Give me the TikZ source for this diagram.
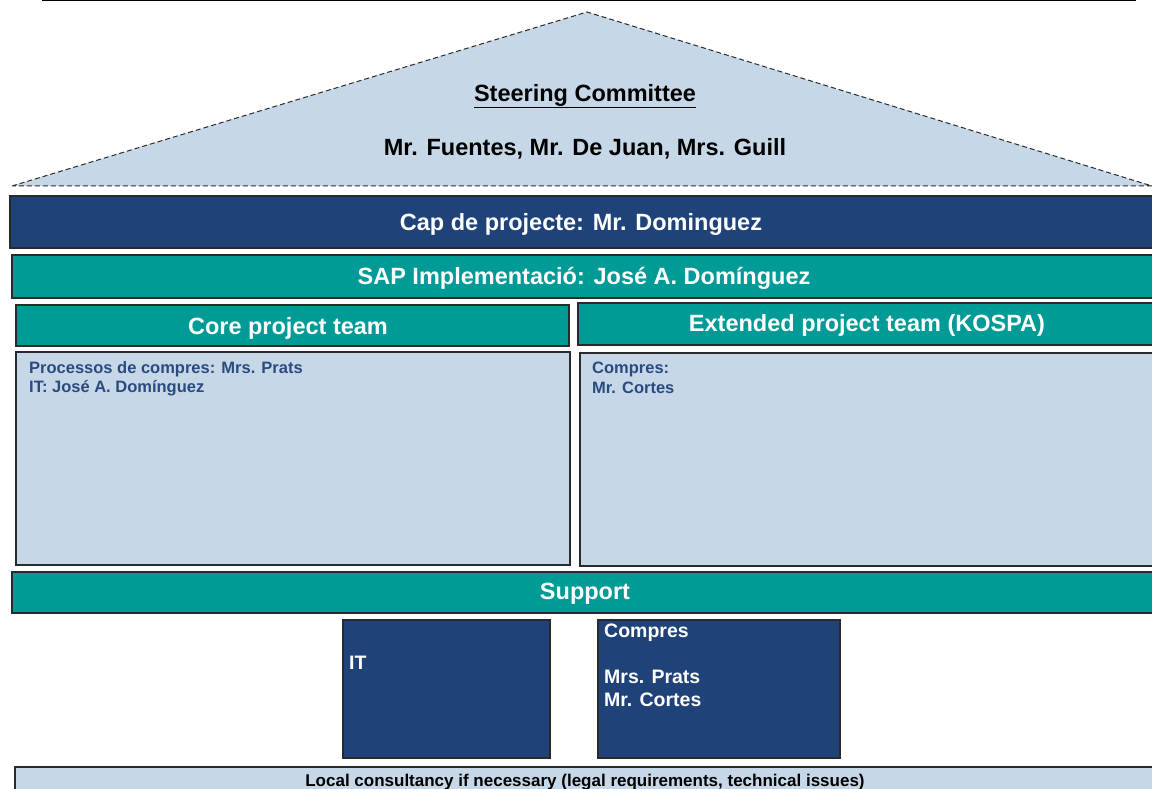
\documentclass[tikz,border=0pt]{standalone}
\usepackage{fontspec}
\setmainfont{Liberation Sans}
\definecolor{lblue}{HTML}{C6D8E7}
\definecolor{dblue}{HTML}{1F4379}
\definecolor{teal2}{HTML}{009B96}
\definecolor{txtblue}{HTML}{2B4A80}
\definecolor{edge}{HTML}{2A2A2A}
\begin{document}
\begin{tikzpicture}[x=1pt,y=-1pt,
  box/.style={draw=edge,line width=1.2pt,anchor=north west,inner sep=0pt,outer sep=0pt},
  bar/.style={box,fill=teal2},
  dbar/.style={box,fill=dblue},
  lbox/.style={box,fill=lblue},
  big/.style={inner sep=0pt,font=\bfseries\fontsize{23.5}{26}\selectfont},
  bigw/.style={big,text=white},
  inner/.style={anchor=north west,inner sep=0pt,align=left,font=\bfseries\fontsize{16.5}{19.5}\selectfont,text=txtblue},
  wtxt/.style={anchor=north west,inner sep=0pt,align=left,font=\bfseries\fontsize{19.5}{23}\selectfont,text=white}]
\useasboundingbox (0,0) rectangle (1152,789);
\fill[white] (0,0) rectangle (1152,789);
% top rule
\coordinate (rl) at (42,1);
\coordinate (rr) at (1136,1);
\draw[line width=1pt] (rl) -- (rr);
% roof
\coordinate (apex) at (587,12);
\coordinate (bl) at (12,186);
\coordinate (br) at (1152,186);
\fill[lblue] (bl) -- (apex) -- (br) -- cycle;
\draw[line width=1pt,draw=edge,dash pattern=on 5pt off 3pt] (bl) -- (apex) -- (br) -- cycle;
\node[big] (sc) at (585,96) {\underline{Steering Committee}};
\node[big] (mem) at (585,149) {Mr. Fuentes, Mr. De Juan, Mrs. Guill};
% bars
\node[dbar,minimum width=1150pt,minimum height=52pt] (cap) at (10,196) {};
\node[bigw] (capt) at (581,224) {Cap de projecte: Mr. Dominguez};
\node[bar,minimum width=1150pt,minimum height=43pt] (sap) at (12,255) {};
\node[bigw] (sapt) at (584,278) {SAP Implementació: José A. Domínguez};
\node[bar,minimum width=553pt,minimum height=41pt] (core) at (16,305) {};
\node[bigw] (coret) at (288,328) {Core project team};
\node[bar,minimum width=580pt,minimum height=42pt] (ext) at (578,303) {};
\node[bigw] (extt) at (867,325) {Extended project team (KOSPA)};
% content boxes
\node[lbox,minimum width=554pt,minimum height=213pt] (corebox) at (16,352) {};
\node[inner] (coretxt) at (29,361) {Processos de compres: Mrs. Prats\\IT: José A. Domínguez};
\node[lbox,minimum width=580pt,minimum height=213pt] (extbox) at (580,353) {};
\node[inner] (exttxt) at (592,362) {Compres:\\Mr. Cortes};
% support
\node[bar,minimum width=1150pt,minimum height=41pt] (sup) at (12,572) {};
\node[bigw] (supt) at (585,594) {Support};
% support boxes
\node[box,fill=dblue,minimum width=207pt,minimum height=138pt] (itbox) at (343,620) {};
\node[wtxt] (itt) at (349,656) {IT};
\node[box,fill=dblue,minimum width=242pt,minimum height=138pt] (cbox) at (598,620) {};
\node[wtxt] (ct) at (604,624) {Compres\\[23pt]Mrs. Prats\\Mr. Cortes};
% local consultancy
\node[lbox,minimum width=1150pt,minimum height=40pt] (loc) at (15,767) {};
\node[inner sep=0pt,font=\bfseries\fontsize{17}{19}\selectfont] (loct) at (585,782) {Local consultancy if necessary (legal requirements, technical issues)};
\end{tikzpicture}
\end{document}
